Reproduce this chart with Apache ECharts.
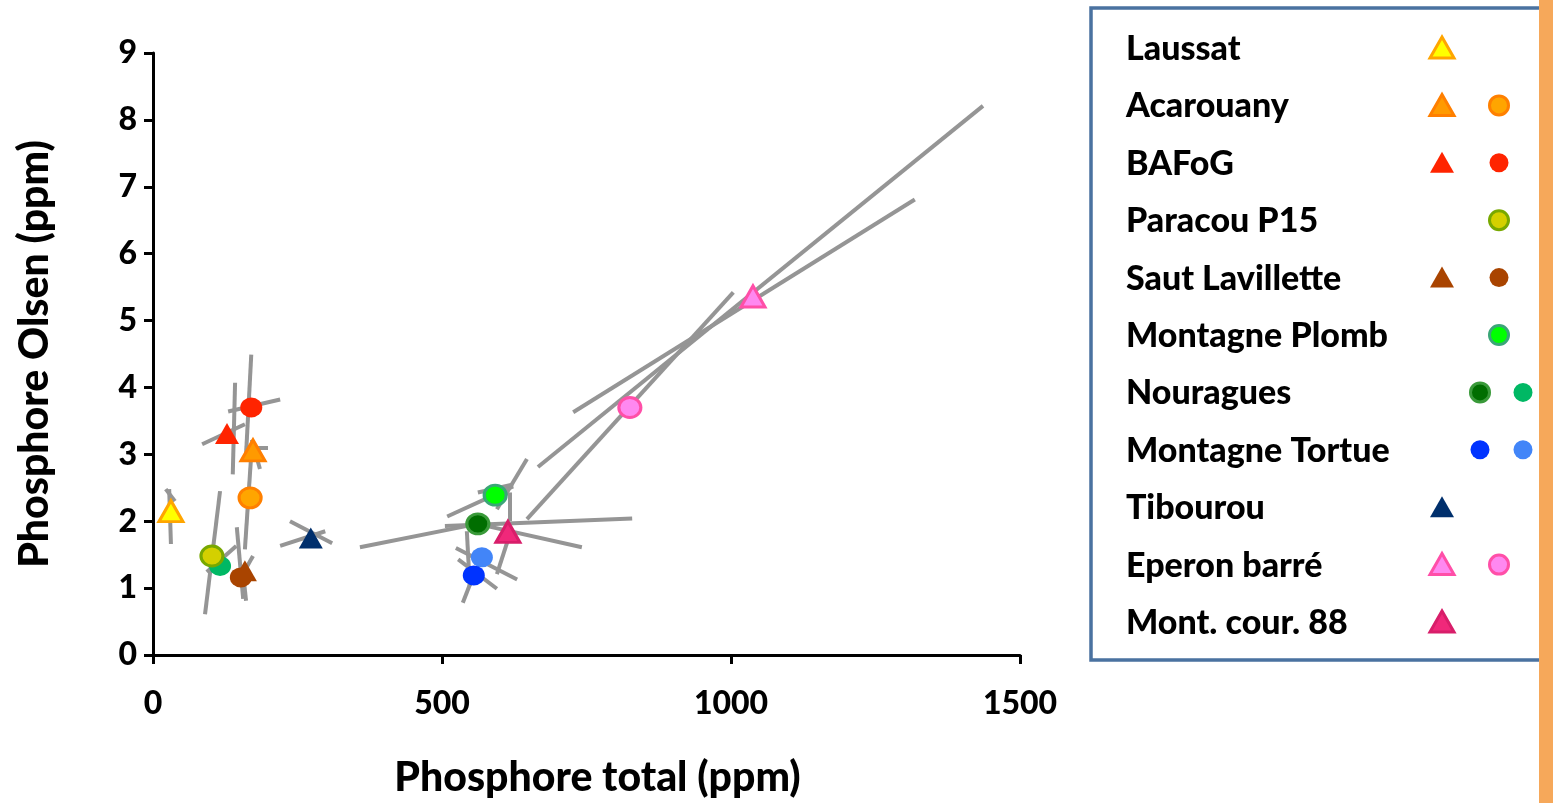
<!DOCTYPE html>
<html>
<head>
<meta charset="utf-8">
<script src="https://cdn.jsdelivr.net/npm/echarts@6/dist/echarts.min.js"></script>
</head>
<body style="margin:0; background:#fff">
<div id="container" style="width:1553px; height:803px"></div>
<script>
// sites, in legend order
var sites = ['Laussat', 'Acarouany', 'BAFoG', 'Paracou P15', 'Saut Lavillette', 'Montagne Plomb',
	'Nouragues', 'Montagne Tortue', 'Tibourou', 'Eperon barré', 'Mont. cour. 88'];

// points : [P total (ppm), P Olsen (ppm)]
var laussatTri = [[31, 2.15]];
var acarouanyTri = [[173, 3.06]];
var acarouanyCirc = [[168, 2.35]];
var bafogTri = [[128, 3.31]];
var bafogCirc = [[170, 3.70]];
var paracouCirc = [[102, 1.48]];
var nouraguesCirc2 = [[116, 1.33]];
var sautTri = [[159, 1.26]];
var sautCirc = [[152, 1.16]];
var plombCirc = [[592, 2.39]];
var nouraguesCirc1 = [[562, 1.96]];
var tortueCirc2 = [[569, 1.46]];
var tortueCirc1 = [[555, 1.19]];
var tibourouTri = [[273, 1.75]];
var eperonTri = [[1038, 5.36]];
var eperonCirc = [[825, 3.70]];
var montCourTri = [[614, 1.84]];

// grey axes lines around each point : [[x1, y1], [x2, y2]]
var segLeft = [
	[[28, 2.48], [31, 1.66]], [[22, 2.48], [38, 2.30]],
	[[170, 4.49], [161, 3.00]], [[130, 3.64], [220, 3.82]],
	[[142, 4.07], [138, 2.70]], [[85, 3.15], [159, 3.45]],
	[[159, 3.10], [199, 3.10]], [[171, 3.22], [185, 2.78]],
	[[170, 3.00], [159, 1.58]],
	[[116, 2.45], [90, 0.61]], [[93, 1.24], [144, 1.63]],
	[[145, 1.91], [156, 0.84]], [[150, 1.13], [173, 1.48]], [[156, 1.21], [161, 0.81]],
	[[237, 2.00], [310, 1.67]], [[220, 1.63], [298, 1.85]]
];
var segMiddle = [
	[[358, 1.61], [561, 1.96]], [[561, 1.96], [742, 1.61]], [[505, 1.93], [829, 2.04]],
	[[509, 2.07], [623, 2.52]], [[595, 2.18], [647, 2.93]], [[562, 2.43], [623, 2.55]], [[618, 2.43], [618, 2.00]],
	[[524, 1.60], [630, 1.13]], [[543, 1.85], [548, 1.03]],
	[[536, 0.78], [554, 1.18]], [[528, 1.43], [595, 0.99]],
	[[595, 1.21], [613, 1.69]]
];
var segUpper = [
	[[647, 2.03], [1004, 5.42]], [[666, 2.81], [1436, 8.21]], [[727, 3.63], [1318, 6.81]]
];

var xTicks = [0, 1500, 500];   // min, max, interval
var yTicks = [0, 9, 1];

var marks = {
	laussatTri:     { shape: 'triangle', fill: '#FFFF00', stroke: '#FFA500', bw: 3 },
	acarouanyTri:   { shape: 'triangle', fill: '#FF9A00', stroke: '#FF7F00', bw: 3 },
	acarouanyCirc:  { shape: 'circle',   fill: '#FFA500', stroke: '#FF8000', bw: 3 },
	bafogTri:       { shape: 'triangle', fill: '#FF2400', stroke: '#FF2400', bw: 0 },
	bafogCirc:      { shape: 'circle',   fill: '#FF2400', stroke: '#FF2400', bw: 0 },
	paracouCirc:    { shape: 'circle',   fill: '#D4D000', stroke: '#78A800', bw: 3 },
	sautTri:        { shape: 'triangle', fill: '#A94400', stroke: '#A94400', bw: 0 },
	sautCirc:       { shape: 'circle',   fill: '#A94400', stroke: '#A94400', bw: 0 },
	plombCirc:      { shape: 'circle',   fill: '#00FF00', stroke: '#3AA677', bw: 3 },
	nouraguesCirc1: { shape: 'circle',   fill: '#006E00', stroke: '#3A9A3A', bw: 3 },
	nouraguesCirc2: { shape: 'circle',   fill: '#00B864', stroke: '#00B864', bw: 0 },
	tortueCirc1:    { shape: 'circle',   fill: '#0033FF', stroke: '#0033FF', bw: 0 },
	tortueCirc2:    { shape: 'circle',   fill: '#4285F8', stroke: '#4285F8', bw: 0 },
	tibourouTri:    { shape: 'triangle', fill: '#002F6C', stroke: '#002F6C', bw: 0 },
	eperonTri:      { shape: 'triangle', fill: '#FF88F0', stroke: '#FF4FA8', bw: 3 },
	eperonCirc:     { shape: 'circle',   fill: '#FF88F0', stroke: '#FF4FA8', bw: 3 },
	montCourTri:    { shape: 'triangle', fill: '#F0287A', stroke: '#D81E6A', bw: 3 }
};

// drawing order
var plotted = [
	['laussatTri', laussatTri], ['acarouanyCirc', acarouanyCirc], ['acarouanyTri', acarouanyTri],
	['bafogTri', bafogTri], ['bafogCirc', bafogCirc], ['nouraguesCirc2', nouraguesCirc2],
	['paracouCirc', paracouCirc], ['sautTri', sautTri], ['sautCirc', sautCirc],
	['tibourouTri', tibourouTri], ['tortueCirc2', tortueCirc2], ['tortueCirc1', tortueCirc1],
	['nouraguesCirc1', nouraguesCirc1], ['plombCirc', plombCirc], ['montCourTri', montCourTri],
	['eperonCirc', eperonCirc], ['eperonTri', eperonTri]
];

// legend symbols per row
var legendMarks = [
	['laussatTri'], ['acarouanyTri', 'acarouanyCirc'], ['bafogTri', 'bafogCirc'], ['paracouCirc'],
	['sautTri', 'sautCirc'], ['plombCirc'], ['nouraguesCirc1', 'nouraguesCirc2'],
	['tortueCirc1', 'tortueCirc2'], ['tibourouTri'], ['eperonTri', 'eperonCirc'], ['montCourTri']
];

var FONT = 'Lato';
var WEIGHT = 900;
var dom = document.getElementById('container');
var myChart = echarts.init(dom);

function segData(list) {
	return list.map(function (s) { return { coords: s }; });
}

var series = [{
	type: 'lines',
	coordinateSystem: 'cartesian2d',
	silent: true,
	z: 1,
	lineStyle: { color: '#959595', width: 4, opacity: 1 },
	data: segData(segLeft.concat(segMiddle, segUpper))
}];

plotted.forEach(function (p, i) {
	var m = marks[p[0]];
	series.push({
		name: p[0],
		type: 'scatter',
		z: 2 + i,
		symbol: m.shape,
		symbolSize: m.shape == 'triangle' ? [24, 21] : [22, 20],
		itemStyle: { color: m.fill, borderColor: m.stroke, borderWidth: m.bw, opacity: 1 },
		data: p[1]
	});
});

// legend box (drawn by hand, two symbols per row)
var graphic = [{
	type: 'rect', z: 10,
	shape: { x: 1091, y: 8, width: 480, height: 652 },
	style: { fill: '#fff', stroke: '#4A72A0', lineWidth: 3.5 }
}];
var rowTop = 48, rowStep = 57.4;
sites.forEach(function (name, i) {
	var cy = rowTop + i * rowStep;
	graphic.push({
		type: 'text', z: 11, x: 1126, y: cy + 1,
		style: { text: name, font: WEIGHT + ' 34px ' + FONT, fill: '#000', verticalAlign: 'middle' }
	});
	var keys = legendMarks[i];
	var circles = keys.filter(function (k) { return marks[k].shape == 'circle'; });
	keys.forEach(function (k) {
		var m = marks[k];
		var st = { fill: m.fill, stroke: m.stroke, lineWidth: m.bw };
		if (m.shape == 'triangle') {
			var cx = 1442;
			graphic.push({ type: 'polygon', z: 11,
				shape: { points: [[cx, cy - 11], [cx + 12, cy + 10], [cx - 12, cy + 10]] }, style: st });
		} else {
			var cx2 = circles.length == 2 ? (circles.indexOf(k) == 0 ? 1480 : 1523) : 1499;
			graphic.push({ type: 'circle', z: 11, shape: { cx: cx2, cy: cy, r: 9.5 }, style: st });
		}
	});
});
graphic.push({
	type: 'rect', z: 12,
	shape: { x: 1539, y: 0, width: 14, height: 803 },
	style: { fill: '#F6A85A' }
});

var axisCommon = {
	type: 'value',
	axisLine: { show: true, onZero: false, lineStyle: { color: '#000', width: 3 } },
	axisTick: { show: true, length: 9, lineStyle: { color: '#000', width: 3 } },
	splitLine: { show: false },
	nameLocation: 'middle',
	nameTextStyle: { fontFamily: FONT, fontWeight: WEIGHT, fontSize: 41, color: '#000' }
};

option = {
	animation: false,
	backgroundColor: '#fff',
	grid: { left: 153, top: 53, width: 867, height: 603 },
	xAxis: Object.assign({}, axisCommon, {
		min: xTicks[0], max: xTicks[1], interval: xTicks[2],
		name: 'Phosphore total (ppm)',
		nameGap: 102,
		nameTextStyle: Object.assign({}, axisCommon.nameTextStyle, { padding: [0, 0, 0, 22] }),
		axisLabel: { fontFamily: FONT, fontWeight: WEIGHT, fontSize: 32, color: '#000', margin: 33,
			formatter: function (v) { return String(v); } }
	}),
	yAxis: Object.assign({}, axisCommon, {
		min: yTicks[0], max: yTicks[1], interval: yTicks[2],
		name: 'Phosphore Olsen (ppm)',
		nameGap: 98,
		nameRotate: 90,
		axisLabel: { fontFamily: FONT, fontWeight: WEIGHT, fontSize: 32, color: '#000', margin: 16 }
	}),
	graphic: graphic,
	series: series
};

if (option && typeof option === "object") {
	myChart.setOption(option, true);
}
</script>
</body>
</html>
